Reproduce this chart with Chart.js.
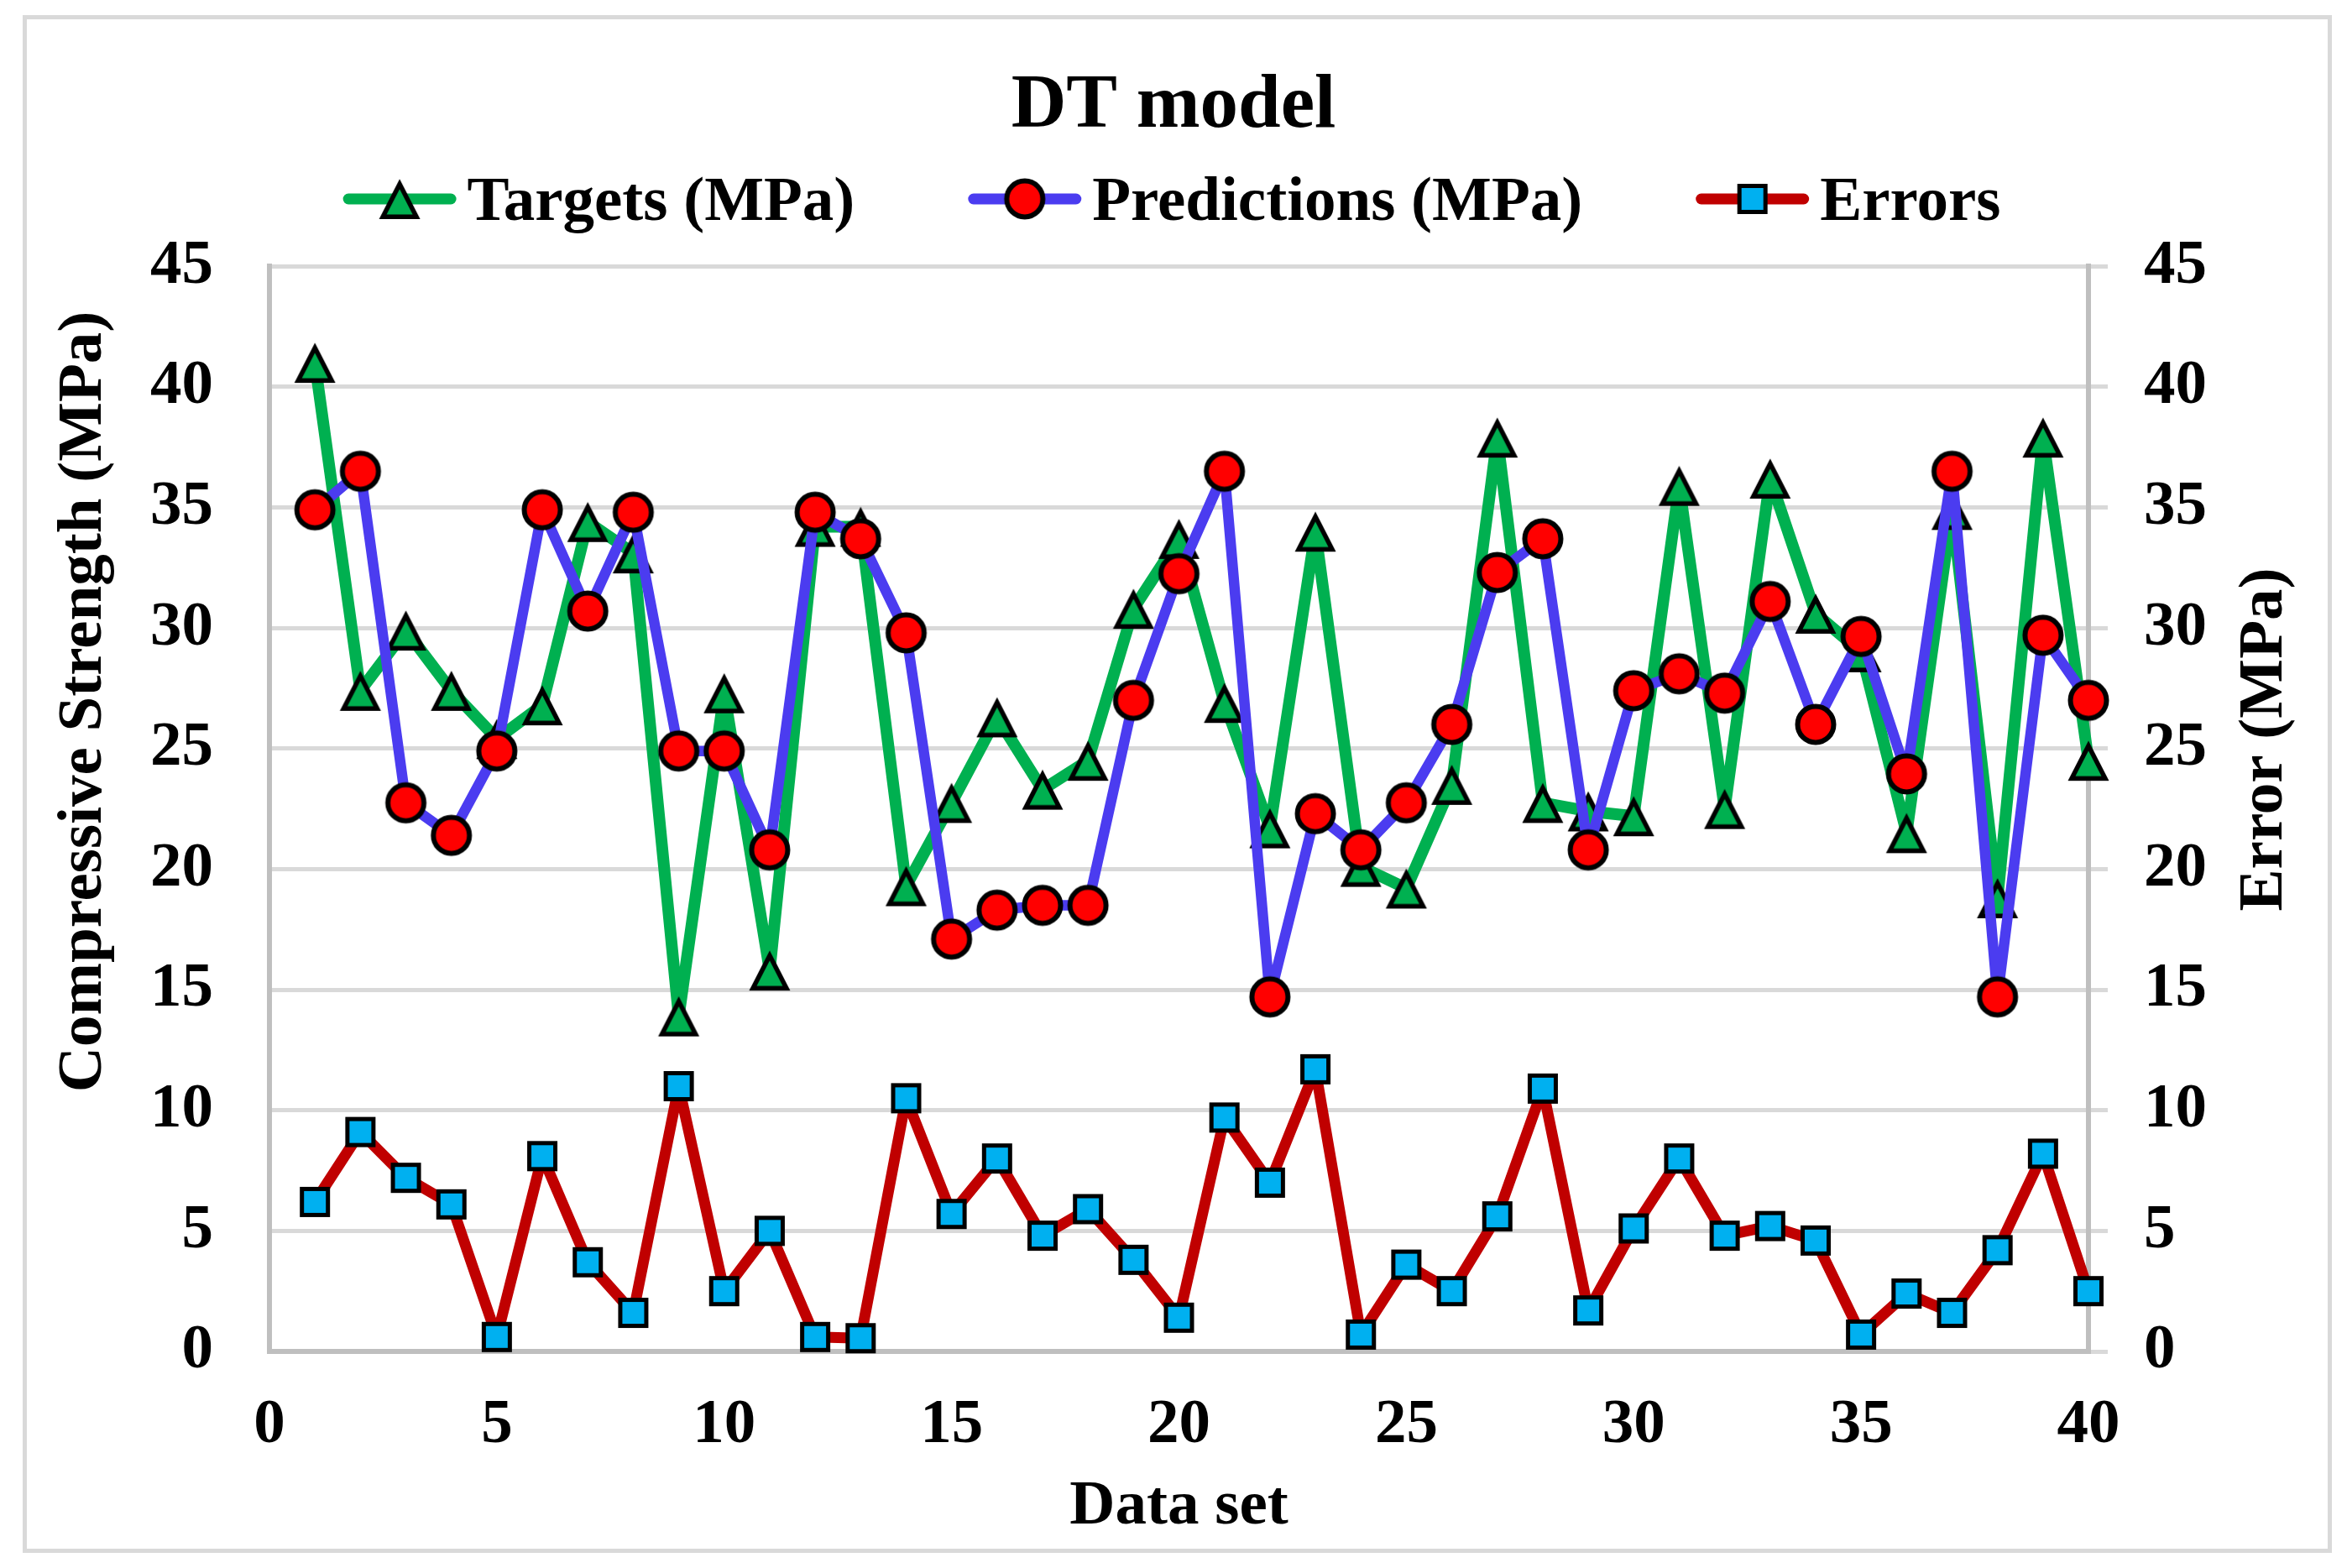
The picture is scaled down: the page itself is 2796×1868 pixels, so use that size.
<!DOCTYPE html>
<html>
<head>
<meta charset="utf-8">
<title>DT model</title>
<script src="https://cdn.jsdelivr.net/npm/chart.js@4.4.1/dist/chart.umd.min.js"></script>
<style>
  html, body { margin: 0; padding: 0; background: #fff; overflow: hidden; }
  #wrap { width: 2796px; height: 1868px; }
</style>
</head>
<body>
<div id="wrap"><canvas id="chart" width="2796" height="1868"></canvas></div>
<script>
// data
const dataSetNo = [1, 2, 3, 4, 5, 6, 7, 8, 9, 10, 11, 12, 13, 14, 15, 16, 17, 18, 19, 20,
                   21, 22, 23, 24, 25, 26, 27, 28, 29, 30, 31, 32, 33, 34, 35, 36, 37, 38, 39, 40];
const targets = [41.0, 27.4, 29.9, 27.4, 25.4, 26.8, 34.4, 33.1, 13.9, 27.3,
                 15.8, 34.2, 34.2, 19.3, 22.75, 26.3, 23.3, 24.5, 30.8, 33.7,
                 26.9, 21.7, 34.0, 20.1, 19.2, 23.5, 37.9, 22.75, 22.4, 22.2,
                 35.9, 22.5, 36.2, 30.6, 29.0, 21.5, 34.9, 18.8, 37.9, 24.5];
const predictions = [34.9, 36.5, 22.75, 21.4, 24.9, 34.9, 30.7, 34.8, 24.9, 24.9,
                     20.8, 34.8, 33.7, 29.8, 17.1, 18.3, 18.5, 18.5, 27.0, 32.25,
                     36.5, 14.7, 22.3, 20.8, 22.75, 26.0, 32.3, 33.7, 20.8, 27.4,
                     28.1, 27.3, 31.1, 26.0, 29.65, 23.95, 36.5, 14.7, 29.7, 27.0];
const errors = [6.2, 9.1, 7.2, 6.1, 0.6, 8.1, 3.7, 1.6, 11.0, 2.5,
                5.0, 0.6, 0.55, 10.5, 5.7, 8.0, 4.8, 5.9, 3.8, 1.4,
                9.7, 7.0, 11.7, 0.7, 3.6, 2.5, 5.6, 10.9, 1.7, 5.1,
                8.0, 4.8, 5.2, 4.6, 0.7, 2.4, 1.6, 4.2, 8.2, 2.5];
const seriesLabels = ['Targets (MPa)', 'Predictions (MPa)', 'Errors'];
const leftTitle = 'Compressive Strength (MPa)';
const rightTitle = 'Error (MPa)';

const FONT = "'Liberation Serif', 'Times New Roman', serif";
Chart.defaults.font.family = FONT;

// Excel-like marker images (centred on their bounding box)
function marker(kind, fill) {
  const c = document.createElement('canvas');
  if (kind === 'triangle') { c.width = 60; c.height = 54; }
  else if (kind === 'circle') { c.width = 56; c.height = 56; }
  else { c.width = 42; c.height = 42; }
  const ctx = c.getContext('2d');
  ctx.fillStyle = fill;
  ctx.strokeStyle = '#000';
  ctx.beginPath();
  if (kind === 'triangle') {
    ctx.lineWidth = 5.5;
    ctx.moveTo(30, 9.3);
    ctx.lineTo(50, 48.3);
    ctx.lineTo(10, 48.3);
    ctx.closePath();
  } else if (kind === 'circle') {
    ctx.lineWidth = 6;
    ctx.arc(28, 28, 21.5, 0, Math.PI * 2);
  } else {
    ctx.lineWidth = 5;
    ctx.rect(5.5, 5.5, 31, 31);
  }
  ctx.fill();
  ctx.stroke();
  return c;
}

const triImg = marker('triangle', '#00b050');
const dotImg = marker('circle', '#ff0000');
const sqImg = marker('square', '#00b0f0');

const toPoints = vals => dataSetNo.map((n, i) => ({ x: n, y: vals[i] }));

const lineBase = {
  tension: 0,
  borderJoinStyle: 'round',
  borderCapStyle: 'round',
  pointRadius: 20,
  clip: false
};

// white page + thin grey frame
const frame = {
  id: 'frame',
  beforeDraw(chart) {
    const ctx = chart.ctx;
    ctx.save();
    ctx.fillStyle = '#fff';
    ctx.fillRect(0, 0, chart.width, chart.height);
    ctx.strokeStyle = '#d9d9d9';
    ctx.lineWidth = 5;
    ctx.strokeRect(29.5, 20.5, 2746, 1827);
    ctx.restore();
  }
};

// legend with line + marker samples like Excel
const lineLegend = {
  id: 'lineLegend',
  afterDraw(chart) {
    const ctx = chart.ctx;
    const items = chart.data.datasets.map(ds => ({ text: ds.label, color: ds.borderColor, img: ds.pointStyle }));
    const lineLen = 135, gapText = 13, gapItem = 135, y = 237;
    ctx.save();
    ctx.font = 'bold 75px ' + FONT;
    const widths = items.map(it => ctx.measureText(it.text).width);
    const total = widths.reduce((a, b) => a + b, 0) + items.length * (lineLen + gapText) + (items.length - 1) * gapItem;
    let x = chart.width / 2 - 2 - total / 2;
    items.forEach((it, i) => {
      ctx.strokeStyle = it.color;
      ctx.lineWidth = 13;
      ctx.lineCap = 'round';
      ctx.beginPath();
      ctx.moveTo(x + 6.5, y);
      ctx.lineTo(x + lineLen - 6.5, y);
      ctx.stroke();
      ctx.drawImage(it.img, x + lineLen / 2 - it.img.width / 2, y - it.img.height / 2);
      ctx.fillStyle = '#000';
      ctx.textAlign = 'left';
      ctx.textBaseline = 'alphabetic';
      ctx.fillText(it.text, x + lineLen + gapText, 262);
      x += lineLen + gapText + widths[i] + gapItem;
    });
    ctx.restore();
  }
};

// rotated y titles (they sit above the plot centre in the original)
const sideTitles = {
  id: 'sideTitles',
  afterDraw(chart) {
    const ctx = chart.ctx;
    ctx.save();
    ctx.font = 'bold 75px ' + FONT;
    ctx.fillStyle = '#000';
    ctx.textAlign = 'center';
    ctx.textBaseline = 'alphabetic';
    [[leftTitle, 120, 836], [rightTitle, 2718, 881]].forEach(([t, x, y]) => {
      ctx.save();
      ctx.translate(x, y);
      ctx.rotate(-Math.PI / 2);
      ctx.fillText(t, 0, 0);
      ctx.restore();
    });
    ctx.restore();
  }
};

const tickFont = { family: FONT, size: 75, weight: 'bold' };

new Chart(document.getElementById('chart'), {
  type: 'line',
  data: {
    datasets: [
      {
        ...lineBase,
        label: seriesLabels[0],
        data: toPoints(targets),
        yAxisID: 'y',
        borderColor: '#00b050',
        borderWidth: 14,
        pointStyle: triImg,
        order: 2
      },
      {
        ...lineBase,
        label: seriesLabels[1],
        data: toPoints(predictions),
        yAxisID: 'y',
        borderColor: '#4b3cf0',
        borderWidth: 12.5,
        pointStyle: dotImg,
        order: 1
      },
      {
        ...lineBase,
        label: seriesLabels[2],
        data: toPoints(errors),
        yAxisID: 'y1',
        borderColor: '#c00000',
        borderWidth: 13,
        pointStyle: sqImg,
        order: 0
      }
    ]
  },
  options: {
    responsive: false,
    devicePixelRatio: 1,
    animation: false,
    layout: { padding: 0 },
    plugins: {
      legend: { display: false },
      tooltip: { enabled: false },
      title: {
        display: true,
        text: 'DT model',
        color: '#000',
        font: { family: FONT, size: 91, weight: 'bold' },
        padding: { top: 73, bottom: 135 }
      }
    },
    scales: {
      x: {
        type: 'linear',
        min: 0,
        max: 40,
        ticks: { stepSize: 5, padding: 44, color: '#000', font: tickFont },
        grid: { display: false, drawTicks: false },
        border: { display: true, color: '#bfbfbf', width: 6 },
        title: { display: true, text: 'Data set', color: '#000', font: tickFont, padding: { top: 0, bottom: 27 } },
        afterFit: s => { s.height = 258; }
      },
      y: {
        position: 'left',
        min: 0,
        max: 45,
        ticks: { stepSize: 5, padding: 67, color: '#000', font: tickFont },
        grid: { color: '#d9d9d9', lineWidth: 5, drawTicks: false },
        border: { color: '#bfbfbf', width: 6 },
        afterFit: s => { s.width = 321; }
      },
      y1: {
        position: 'right',
        min: 0,
        max: 45,
        ticks: { stepSize: 5, padding: 43, color: '#000', font: tickFont },
        grid: { drawOnChartArea: false, drawTicks: true, tickLength: 23, color: '#d9d9d9', lineWidth: 5 },
        border: { color: '#bfbfbf', width: 6 },
        afterFit: s => { s.width = 308; }
      }
    }
  },
  plugins: [frame, lineLegend, sideTitles]
});
</script>
</body>
</html>
